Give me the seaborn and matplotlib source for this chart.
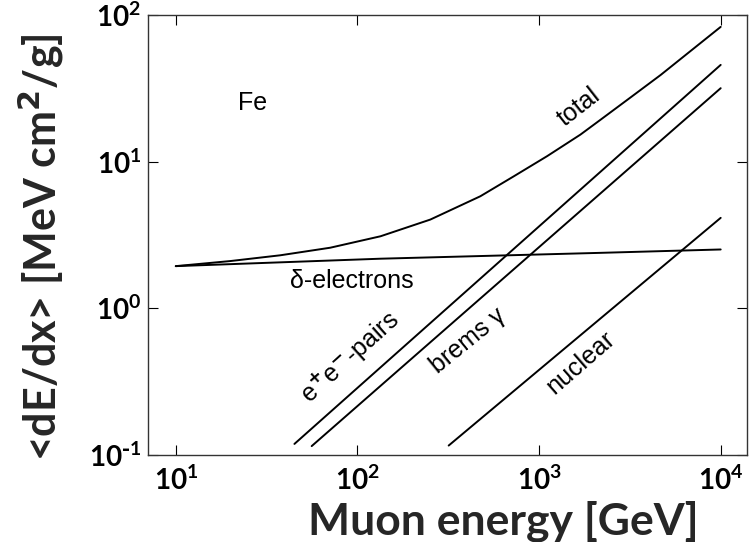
import matplotlib
matplotlib.use("Agg")
import matplotlib.pyplot as plt
import seaborn as sns
import pandas as pd
import numpy as np

# Values (muon energy loss in iron)
energy_total = [10, 19.9, 37.6, 70.8, 134, 252, 475, 725, 1107, 1690, 2178, 3200, 4670, 10000]
dedx_total = [1.94, 2.10, 2.30, 2.59, 3.10, 4.03, 5.81, 7.94, 10.9, 15.3, 19.3, 27.5, 39, 83]

energy_delta = [10, 134, 2178, 10000]
dedx_delta = [1.94, 2.18, 2.39, 2.52]

energy_pairs = [45, 10000]
dedx_pairs = [0.119, 45.7]

energy_brems = [56, 10000]
dedx_brems = [0.115, 31.7]

energy_nuclear = [318, 10000]
dedx_nuclear = [0.116, 4.14]

x_ticks = [10, 100, 1000, 10000]
y_ticks = [0.1, 1, 10, 100]

curves = {
    "total": (energy_total, dedx_total),
    "delta": (energy_delta, dedx_delta),
    "pairs": (energy_pairs, dedx_pairs),
    "brems": (energy_brems, dedx_brems),
    "nuclear": (energy_nuclear, dedx_nuclear),
}


def pow10_label(v, pos):
    exp = int(round(np.log10(v)))
    if exp < 0:
        return r"$\mathdefault{10^{\text{-}%d}}$" % (-exp)
    return r"$\mathdefault{10^{%d}}$" % exp


sns.set_theme(style="ticks")
plt.rcParams["font.family"] = ["Lato", "DejaVu Sans"]
plt.rcParams["font.weight"] = "bold"

fig = plt.figure(figsize=(7.5, 5.42), dpi=100)
ax = fig.add_axes([0.1973, 0.1605, 0.7987, 0.8118])
ax.set(xscale="log", yscale="log")

for name, (e, d) in curves.items():
    df = pd.DataFrame({"E": e, "dEdx": d})
    sns.lineplot(data=df, x="E", y="dEdx", ax=ax, color="black",
                 linewidth=1.4, estimator=None, sort=False)

ax.set_xlim(7.03, 13960)
ax.set_ylim(0.1, 100)
ax.set_xticks(x_ticks)
ax.set_yticks(y_ticks)
ax.xaxis.set_minor_locator(matplotlib.ticker.NullLocator())
ax.yaxis.set_minor_locator(matplotlib.ticker.NullLocator())
ax.xaxis.set_major_formatter(matplotlib.ticker.FuncFormatter(pow10_label))
ax.yaxis.set_major_formatter(matplotlib.ticker.FuncFormatter(pow10_label))
ax.tick_params(direction="in", length=7, width=0.8, top=True, right=True,
               labelsize=20, colors="black")
ax.tick_params(axis="x", pad=8)
ax.tick_params(axis="y", pad=5)
for s in ax.spines.values():
    s.set_color("#333333")
    s.set_linewidth(1.0)
ax.set_xlabel("")
ax.set_ylabel("")

lab = dict(family=["Liberation Sans", "DejaVu Sans"], weight="normal",
           fontsize=18, color="black", ha="center", va="center")
ax.text(26.4, 25.2, "Fe", **lab)
ax.text(1650, 23.7, "total", rotation=38, **lab)
ax.text(93.6, 1.53, "δ-electrons", **lab)
ax.text(91, 0.47, r"e$^{+}$e$^{-}$-pairs", rotation=42, **lab)
ax.text(407, 0.605, "brems γ", rotation=39, **lab)
ax.text(1690, 0.423, "nuclear", rotation=41, **lab)

fig.text(503.5 / 750, 1 - 534 / 542, "Muon energy [GeV]", fontsize=32,
         fontweight="bold", ha="center", va="baseline")
fig.text(41 / 750, 1 - 247 / 542, "<dE/dx> [MeV cm$^{2}$/g]", fontsize=31,
         fontweight="bold", ha="center", va="center", rotation=90)

fig.savefig("out.png", dpi=100)
